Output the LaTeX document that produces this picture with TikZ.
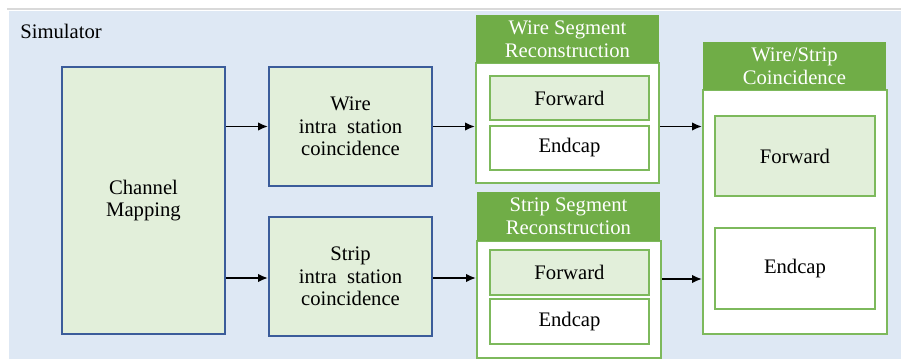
\documentclass[tikz,border=0pt]{standalone}
\usepackage{fontspec}
\setmainfont{Liberation Serif}
\usetikzlibrary{arrows.meta}
\definecolor{bgblue}{HTML}{DEE8F4}
\definecolor{lgreen}{HTML}{E2EFDA}
\definecolor{dblue}{HTML}{3B5C9A}
\definecolor{hgreen}{HTML}{70AD47}
\definecolor{bgreen}{HTML}{7DB95C}
\definecolor{greyline}{HTML}{D9D9D9}
\tikzset{
  txt/.style={font=\rmfamily\fontsize{15.5pt}{17pt}\selectfont, align=center, text=black},
  bluebox/.style={txt, draw=dblue, line width=1.5pt, fill=lgreen, inner sep=0pt},
  hdr/.style={txt, text=white, fill=hgreen, draw=none, inner sep=0pt},
  body/.style={draw=bgreen, line width=1.5pt, fill=white, inner sep=0pt},
  fwdbox/.style={txt, draw=bgreen, line width=1.5pt, fill=lgreen, inner sep=0pt},
  endbox/.style={txt, draw=bgreen, line width=1.5pt, fill=white, inner sep=0pt},
  conn/.style={line width=1.4pt, -{Latex[length=7.5pt,width=6.5pt]}}
}
\begin{document}
\begin{tikzpicture}[x=0.75pt,y=-0.75pt]
\useasboundingbox (0,0) rectangle (901,359);
\draw[greyline, line width=1.2pt] (7,9) -- (901,9);
\fill[bgblue] (9,11) rectangle (901,359);
\node[txt, anchor=west, inner sep=0pt] (sim) at (20,31) {Simulator};

\node[bluebox, minimum width=163*0.75pt, minimum height=267*0.75pt] (cm) at (143.5,200.5) {Channel\\Mapping};
\node[bluebox, minimum width=163*0.75pt, minimum height=119*0.75pt] (wi) at (350.5,126.5) {Wire\\intra\ \ station\\coincidence};
\node[bluebox, minimum width=163*0.75pt, minimum height=119*0.75pt] (si) at (350.5,276.5) {Strip\\intra\ \ station\\coincidence};

% Wire segment
\node[body, minimum width=183*0.75pt, minimum height=120*0.75pt] (wsb) at (567.5,123) {};
\node[hdr, minimum width=183*0.75pt, minimum height=48*0.75pt] (wsh) at (567.5,39) {Wire Segment\\Reconstruction};
\node[fwdbox, minimum width=159*0.75pt, minimum height=44*0.75pt] (wsf) at (569.5,98) {Forward};
\node[endbox, minimum width=159*0.75pt, minimum height=44*0.75pt] (wse) at (569.5,148) {Endcap};

% Strip segment
\node[body, minimum width=184*0.75pt, minimum height=117*0.75pt] (ssb) at (569,299.5) {};
\node[hdr, minimum width=183*0.75pt, minimum height=49*0.75pt] (ssh) at (568.5,216.5) {Strip Segment\\Reconstruction};
\node[fwdbox, minimum width=159*0.75pt, minimum height=45*0.75pt] (ssf) at (569.5,272.5) {Forward};
\node[endbox, minimum width=159*0.75pt, minimum height=45*0.75pt] (sse) at (569.5,321.5) {Endcap};

% Coincidence
\node[body, minimum width=184*0.75pt, minimum height=244*0.75pt] (cb) at (795,212) {};
\node[hdr, minimum width=183*0.75pt, minimum height=48*0.75pt] (ch) at (794.5,66) {Wire/Strip\\Coincidence};
\node[fwdbox, minimum width=160*0.75pt, minimum height=80*0.75pt] (cf) at (795,156) {Forward};
\node[endbox, minimum width=160*0.75pt, minimum height=81*0.75pt] (ce) at (795,268.5) {Endcap};

% connectors
\draw[conn] (cm.east |- wi.east) -- (wi.west);
\draw[conn] (cm.east |- 0,278) -- (si.west |- 0,278);
\draw[conn] (wi.east) -- (wsb.west |- wi.east);
\draw[conn] (si.east |- 0,278) -- (ssb.west |- 0,278);
\draw[conn] (wsb.east |- wi.east) -- (cb.west |- wi.east);
\draw[conn] (ssb.east |- 0,279) -- (cb.west |- 0,279);
\end{tikzpicture}
\end{document}
